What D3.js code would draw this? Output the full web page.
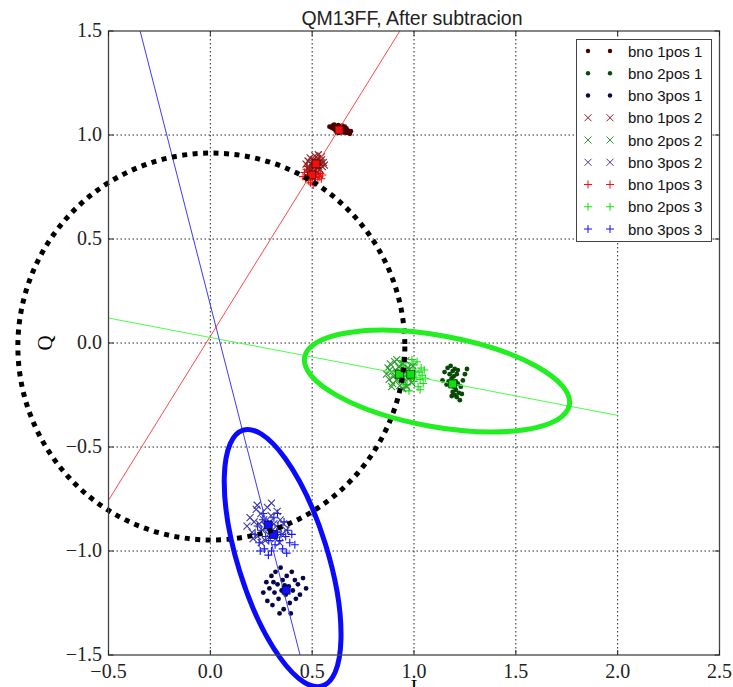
<!DOCTYPE html>
<html>
<head>
<meta charset="utf-8">
<script src="https://cdn.jsdelivr.net/npm/d3@7/dist/d3.min.js"></script>
<style>
body { margin: 0; background: #fff; }
</style>
</head>
<body>
<svg id="chart" width="733" height="687"></svg>
<script>
// ---- data ----
var xTicks = [-0.5, 0.0, 0.5, 1.0, 1.5, 2.0, 2.5];
var yTicks = [-1.5, -1.0, -0.5, 0.0, 0.5, 1.0, 1.5];
var seriesNames = ["bno 1pos 1", "bno 2pos 1", "bno 3pos 1",
                   "bno 1pos 2", "bno 2pos 2", "bno 3pos 2",
                   "bno 1pos 3", "bno 2pos 3", "bno 3pos 3"];

var bno1pos1 = [[0.585,1.040],[0.595,1.035],[0.600,1.045],[0.605,1.030],[0.612,1.042],[0.618,1.028],[0.620,1.038],[0.625,1.020],[0.628,1.047],[0.632,1.033],[0.636,1.025],[0.640,1.040],[0.642,1.015],[0.645,1.030],[0.650,1.022],[0.653,1.036],[0.657,1.012],[0.660,1.027],[0.664,1.018],[0.668,1.032],[0.672,1.010],[0.676,1.021],[0.680,1.014],[0.685,1.006],[0.615,1.020],[0.630,1.010],[0.648,1.045],[0.608,1.050],[0.660,1.040],[0.690,1.018]];
var bno2pos1 = [[1.150,-0.140],[1.165,-0.120],[1.175,-0.150],[1.180,-0.110],[1.185,-0.170],[1.190,-0.135],[1.195,-0.160],[1.200,-0.125],[1.205,-0.185],[1.210,-0.150],[1.180,-0.200],[1.195,-0.210],[1.205,-0.225],[1.215,-0.195],[1.220,-0.240],[1.210,-0.260],[1.225,-0.275],[1.190,-0.235],[1.230,-0.210],[1.240,-0.180],[1.250,-0.150],[1.260,-0.125],[1.170,-0.185],[1.160,-0.200],[1.140,-0.180],[1.200,-0.250],[1.215,-0.130],[1.235,-0.245],[1.185,-0.255],[1.200,-0.200]];
var bno3pos1 = [[0.260,-1.200],[0.275,-1.150],[0.280,-1.240],[0.290,-1.180],[0.300,-1.120],[0.305,-1.260],[0.315,-1.200],[0.320,-1.100],[0.330,-1.160],[0.335,-1.230],[0.345,-1.080],[0.350,-1.190],[0.355,-1.140],[0.360,-1.280],[0.370,-1.210],[0.375,-1.120],[0.385,-1.170],[0.390,-1.250],[0.400,-1.100],[0.405,-1.190],[0.415,-1.140],[0.420,-1.230],[0.430,-1.160],[0.440,-1.210],[0.455,-1.130],[0.470,-1.180],[0.340,-1.300],[0.310,-1.150],[0.395,-1.300],[0.365,-1.165]];

var bno1pos2 = [[0.470,0.860],[0.480,0.875],[0.485,0.845],[0.490,0.890],[0.495,0.860],[0.500,0.870],[0.503,0.840],[0.507,0.880],[0.510,0.855],[0.513,0.900],[0.516,0.865],[0.520,0.845],[0.522,0.875],[0.525,0.858],[0.528,0.888],[0.532,0.850],[0.535,0.870],[0.538,0.835],[0.542,0.862],[0.546,0.880],[0.550,0.848],[0.555,0.868],[0.560,0.855],[0.498,0.825],[0.530,0.905],[0.515,0.830],[0.545,0.895],[0.478,0.838]];
var bno2pos2 = [[0.865,-0.150],[0.872,-0.120],[0.878,-0.175],[0.884,-0.100],[0.890,-0.140],[0.895,-0.195],[0.900,-0.160],[0.905,-0.090],[0.910,-0.130],[0.915,-0.180],[0.920,-0.150],[0.925,-0.115],[0.930,-0.205],[0.935,-0.140],[0.940,-0.165],[0.945,-0.100],[0.950,-0.185],[0.955,-0.130],[0.960,-0.155],[0.965,-0.210],[0.970,-0.120],[0.975,-0.170],[0.980,-0.145],[0.988,-0.190],[0.995,-0.110],[0.890,-0.210],[0.915,-0.080],[0.945,-0.220],[0.880,-0.130],[0.960,-0.085]];
var bno3pos2 = [[0.180,-0.880],[0.195,-0.840],[0.205,-0.910],[0.215,-0.860],[0.225,-0.800],[0.232,-0.930],[0.240,-0.870],[0.248,-0.820],[0.255,-0.900],[0.262,-0.850],[0.270,-0.950],[0.275,-0.880],[0.280,-0.790],[0.286,-0.920],[0.292,-0.860],[0.298,-0.830],[0.305,-0.900],[0.312,-0.870],[0.320,-0.940],[0.328,-0.810],[0.335,-0.890],[0.343,-0.850],[0.352,-0.920],[0.360,-0.870],[0.372,-0.900],[0.250,-0.960],[0.300,-0.770],[0.230,-0.780],[0.340,-0.960],[0.210,-0.940]];

var bno1pos3 = [[0.455,0.800],[0.462,0.820],[0.468,0.790],[0.472,0.835],[0.478,0.810],[0.483,0.780],[0.487,0.825],[0.490,0.800],[0.494,0.845],[0.497,0.815],[0.500,0.790],[0.503,0.830],[0.506,0.805],[0.510,0.770],[0.513,0.820],[0.516,0.795],[0.520,0.838],[0.524,0.810],[0.528,0.785],[0.532,0.822],[0.536,0.800],[0.540,0.815],[0.545,0.790],[0.475,0.850],[0.505,0.760],[0.530,0.845],[0.492,0.770],[0.550,0.808]];
var bno2pos3 = [[0.920,-0.140],[0.928,-0.170],[0.935,-0.110],[0.942,-0.190],[0.948,-0.130],[0.955,-0.160],[0.960,-0.095],[0.966,-0.200],[0.972,-0.145],[0.978,-0.120],[0.984,-0.175],[0.990,-0.150],[0.995,-0.105],[1.000,-0.185],[1.005,-0.135],[1.010,-0.165],[1.015,-0.090],[1.020,-0.210],[1.025,-0.140],[1.030,-0.175],[1.035,-0.120],[1.040,-0.155],[1.045,-0.195],[1.050,-0.130],[0.950,-0.215],[0.990,-0.080],[1.030,-0.225],[0.975,-0.230],[1.055,-0.170],[0.940,-0.085]];
var bno3pos3 = [[0.220,-0.920],[0.232,-0.880],[0.240,-0.960],[0.250,-0.900],[0.258,-0.850],[0.265,-0.990],[0.272,-0.930],[0.280,-0.870],[0.287,-0.950],[0.294,-0.900],[0.300,-1.000],[0.306,-0.920],[0.312,-0.840],[0.318,-0.970],[0.325,-0.910],[0.332,-0.880],[0.340,-0.950],[0.347,-0.920],[0.355,-0.990],[0.362,-0.860],[0.370,-0.930],[0.380,-0.900],[0.390,-0.960],[0.400,-0.920],[0.415,-0.970],[0.285,-1.020],[0.330,-0.820],[0.260,-0.820],[0.375,-1.010],[0.245,-1.000]];

// cluster means (big squares), bno 1..3 for pos 1..3
var meansI = [[0.632, 0.519, 0.498], [1.190, 0.928, 0.984], [0.372, 0.284, 0.310]];
var meansQ = [[1.024, 0.861, 0.808], [-0.197, -0.150, -0.150], [-1.188, -0.875, -0.920]];

// fitted lines, I from -0.5 to 2.0
var lineI = [-0.5, 2.0];
var redLineQ = [-0.756, 3.187];
var greenLineQ = [0.120, -0.348];
var blueLineQ = [2.093, -7.457];

// black dotted circle and the two ellipses (data units)
var circleCenter = [0.005, -0.017];
var circleRadius = [0.95, 0.93];
var greenEllCenter = [1.113, -0.183];
var greenEllMajor = [0.650, -0.115];
var greenEllMinor = [-0.044, 0.215];
var blueEllCenter = [0.355, -1.034];
var blueEllMajor = [0.194, -0.615];
var blueEllMinor = [0.211, 0.064];

// ---- styles ----
var darkCol = ["#4a0000", "#064a06", "#06064a"];
var midCol = ["#8e2020", "#2f9a2f", "#3a3aa8"];
var brightCol = ["#f01010", "#10e010", "#1010ff"];

var svg = d3.select("#chart");
var pLeft = 108.5, pRight = 719.5, pTop = 31, pBottom = 655;

var x = d3.scaleLinear().domain([-0.5, 2.5]).range([pLeft, pRight]);
var y = d3.scaleLinear().domain([-1.5, 1.5]).range([pBottom, pTop]);

svg.append("defs").append("clipPath").attr("id", "plotclip")
    .append("rect").attr("x", pLeft).attr("y", pTop)
    .attr("width", pRight - pLeft).attr("height", pBottom - pTop);

// grid
var grid = svg.append("g");
grid.selectAll(".gx").data(xTicks.slice(1, -1)).enter().append("line")
    .attr("x1", function(d){ return x(d); }).attr("x2", function(d){ return x(d); })
    .attr("y1", pTop).attr("y2", pBottom)
    .attr("stroke", "#222").attr("stroke-width", 1).attr("stroke-dasharray", "1.5,2.5");
grid.selectAll(".gy").data(yTicks.slice(1, -1)).enter().append("line")
    .attr("y1", function(d){ return y(d); }).attr("y2", function(d){ return y(d); })
    .attr("x1", pLeft).attr("x2", pRight)
    .attr("stroke", "#222").attr("stroke-width", 1).attr("stroke-dasharray", "1.5,2.5");

var plot = svg.append("g").attr("clip-path", "url(#plotclip)");

// markers
function dots(data, col){
    plot.append("g").selectAll("circle").data(data).enter().append("circle")
        .attr("cx", function(d){ return x(d[0]); })
        .attr("cy", function(d){ return y(d[1]); })
        .attr("r", 2.4).attr("fill", col);
}
function crosses(data, col){
    plot.append("g").selectAll("path").data(data).enter().append("path")
        .attr("d", function(d){
            var px = x(d[0]), py = y(d[1]), s = 3.5;
            return "M" + (px - s) + "," + (py - s) + "L" + (px + s) + "," + (py + s) +
                   "M" + (px - s) + "," + (py + s) + "L" + (px + s) + "," + (py - s);
        })
        .attr("stroke", col).attr("stroke-width", 1.1).attr("fill", "none");
}
function pluses(data, col){
    plot.append("g").selectAll("path").data(data).enter().append("path")
        .attr("d", function(d){
            var px = x(d[0]), py = y(d[1]), s = 4;
            return "M" + (px - s) + "," + py + "L" + (px + s) + "," + py +
                   "M" + px + "," + (py - s) + "L" + px + "," + (py + s);
        })
        .attr("stroke", col).attr("stroke-width", 1.1).attr("fill", "none");
}

dots(bno1pos1, darkCol[0]);
dots(bno2pos1, darkCol[1]);
dots(bno3pos1, darkCol[2]);
pluses(bno1pos3, brightCol[0]);
pluses(bno2pos3, brightCol[1]);
pluses(bno3pos3, brightCol[2]);
crosses(bno1pos2, midCol[0]);
crosses(bno2pos2, midCol[1]);
crosses(bno3pos2, midCol[2]);

// fitted lines
var lineCols = ["#ff4a4a", "#4aff4a", "#3a3aff"];
[redLineQ, greenLineQ, blueLineQ].forEach(function(q, i){
    plot.append("line")
        .attr("x1", x(lineI[0])).attr("y1", y(q[0]))
        .attr("x2", x(lineI[1])).attr("y2", y(q[1]))
        .attr("stroke", lineCols[i]).attr("stroke-width", 1);
});

// means
meansI.forEach(function(row, b){
    row.forEach(function(mi, p){
        plot.append("rect")
            .attr("x", x(mi) - 4).attr("y", y(meansQ[b][p]) - 4)
            .attr("width", 8).attr("height", 8)
            .attr("fill", brightCol[b]).attr("stroke", darkCol[b]).attr("stroke-width", 0.8);
    });
});

// circle and ellipses (not clipped)
var sx = x(1) - x(0), sy = y(0) - y(1);
svg.append("ellipse")
    .attr("cx", x(circleCenter[0])).attr("cy", y(circleCenter[1]))
    .attr("rx", circleRadius[0] * sx).attr("ry", circleRadius[1] * sy)
    .attr("fill", "none").attr("stroke", "#000").attr("stroke-width", 5)
    .attr("stroke-dasharray", "5,5.5");

function drawEllipse(c, u, v, col){
    var ux = u[0] * sx, uy = -u[1] * sy;
    var vx = v[0] * sx, vy = -v[1] * sy;
    var cx = x(c[0]), cy = y(c[1]);
    var ang = Math.atan2(uy, ux) * 180 / Math.PI;
    svg.append("ellipse")
        .attr("cx", cx).attr("cy", cy)
        .attr("rx", Math.sqrt(ux * ux + uy * uy))
        .attr("ry", Math.sqrt(vx * vx + vy * vy))
        .attr("transform", "rotate(" + ang + "," + cx + "," + cy + ")")
        .attr("fill", "none").attr("stroke", col).attr("stroke-width", 5);
}
drawEllipse(greenEllCenter, greenEllMajor, greenEllMinor, "#22ee22");
drawEllipse(blueEllCenter, blueEllMajor, blueEllMinor, "#0a0aff");

// frame and inward ticks
svg.append("rect").attr("x", pLeft).attr("y", pTop)
    .attr("width", pRight - pLeft).attr("height", pBottom - pTop)
    .attr("fill", "none").attr("stroke", "#444").attr("stroke-width", 1.3);

var tk = svg.append("g").attr("stroke", "#222").attr("stroke-width", 1);
xTicks.forEach(function(t){
    tk.append("line").attr("x1", x(t)).attr("x2", x(t)).attr("y1", pBottom).attr("y2", pBottom - 5);
    tk.append("line").attr("x1", x(t)).attr("x2", x(t)).attr("y1", pTop).attr("y2", pTop + 5);
});
yTicks.forEach(function(t){
    tk.append("line").attr("y1", y(t)).attr("y2", y(t)).attr("x1", pLeft).attr("x2", pLeft + 5);
    tk.append("line").attr("y1", y(t)).attr("y2", y(t)).attr("x1", pRight).attr("x2", pRight - 5);
});

var fmt = d3.format(".1f");
svg.append("g").selectAll("text").data(xTicks).enter().append("text")
    .attr("x", function(d){ return x(d); }).attr("y", 678)
    .attr("text-anchor", "middle")
    .style("font-family", "Liberation Serif, serif").style("font-size", "20px").style("fill", "#222")
    .text(function(d){ return fmt(d); });
svg.append("g").selectAll("text").data(yTicks).enter().append("text")
    .attr("x", 102).attr("y", function(d){ return y(d) + 6; })
    .attr("text-anchor", "end")
    .style("font-family", "Liberation Serif, serif").style("font-size", "20px").style("fill", "#222")
    .text(function(d){ return fmt(d); });

// axis labels and title
svg.append("text").attr("transform", "translate(52,343) rotate(-90)")
    .attr("text-anchor", "middle")
    .style("font-family", "Liberation Serif, serif").style("font-size", "21px")
    .text("Q");
svg.append("text").attr("x", 414).attr("y", 694)
    .attr("text-anchor", "middle")
    .style("font-family", "Liberation Serif, serif").style("font-size", "21px")
    .text("I");
svg.append("text").attr("x", 412).attr("y", 25)
    .attr("text-anchor", "middle")
    .style("font-family", "Liberation Sans, Arial, sans-serif").style("font-size", "19.5px").style("fill", "#222")
    .text("QM13FF, After subtracion");

// legend
var legend = svg.append("g");
legend.append("rect").attr("x", 576.5).attr("y", 39.5).attr("width", 135).attr("height", 202)
    .attr("fill", "#fff").attr("stroke", "#444").attr("stroke-width", 1);
var legendCols = darkCol.concat(midCol, brightCol);
seriesNames.forEach(function(name, i){
    var ly = 51 + i * 22.25;
    var col = legendCols[i];
    [588, 610].forEach(function(mx){
        if (i < 3){
            legend.append("circle").attr("cx", mx).attr("cy", ly).attr("r", 2.2).attr("fill", col);
        } else if (i < 6){
            legend.append("path").attr("d", "M" + (mx - 3.5) + "," + (ly - 3.5) + "L" + (mx + 3.5) + "," + (ly + 3.5) +
                "M" + (mx - 3.5) + "," + (ly + 3.5) + "L" + (mx + 3.5) + "," + (ly - 3.5))
                .attr("stroke", col).attr("stroke-width", 1);
        } else {
            legend.append("path").attr("d", "M" + (mx - 4) + "," + ly + "L" + (mx + 4) + "," + ly +
                "M" + mx + "," + (ly - 4) + "L" + mx + "," + (ly + 4))
                .attr("stroke", col).attr("stroke-width", 1);
        }
    });
    legend.append("text").attr("x", 628).attr("y", ly + 5.5)
        .style("font-family", "Liberation Sans, Arial, sans-serif").style("font-size", "15px").style("fill", "#111")
        .text(name);
});
</script>
</body>
</html>
